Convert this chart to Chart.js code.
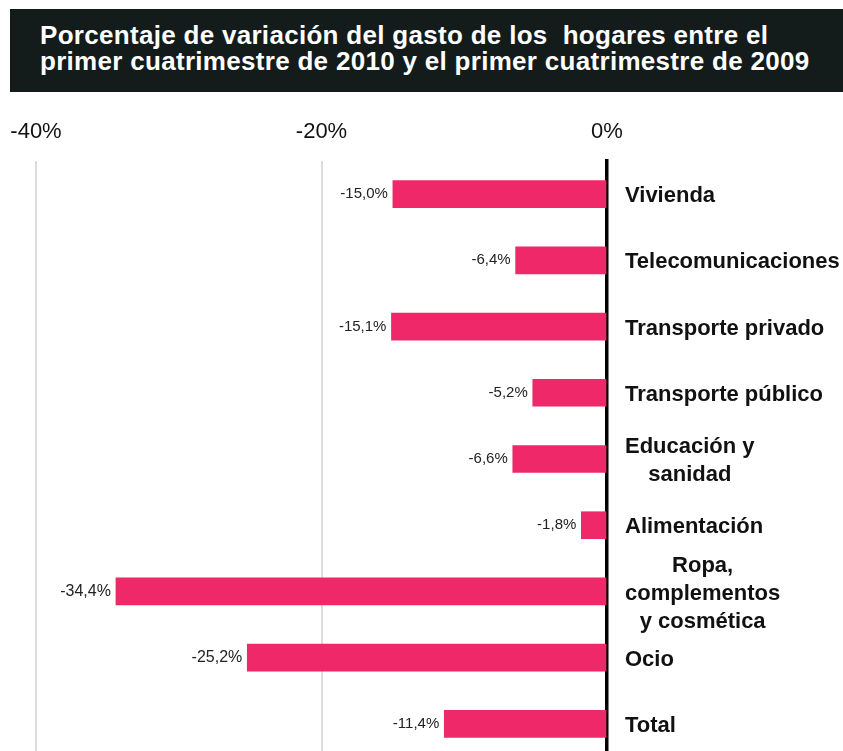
<!DOCTYPE html>
<html>
<head>
<meta charset="utf-8">
<script src="https://cdn.jsdelivr.net/npm/chart.js@4.4.1/dist/chart.umd.min.js"></script>
<style>
  body { margin: 0; background: #fff; overflow: hidden; }
  #title {
    position: absolute; left: 10px; top: 9px; width: 833px; height: 83px;
    background: #131b1b; color: #fff; box-sizing: border-box;
    padding: 14px 0 0 30px; letter-spacing: 0.3px;
    font: bold 26px 'Liberation Sans', Arial, sans-serif; line-height: 25.5px;
  }
  #wrap { position: absolute; left: 0; top: 0; width: 843px; height: 770px; }
</style>
</head>
<body>
<div id="wrap"><canvas id="bar-chart" width="843" height="770"></canvas></div>
<div id="title">Porcentaje de variación del gasto de los&nbsp; hogares entre el<br>primer cuatrimestre de 2010 y el primer cuatrimestre de 2009</div>
<script>
const categories = [
  ['Vivienda'],
  ['Telecomunicaciones'],
  ['Transporte privado'],
  ['Transporte público'],
  ['Educación y', 'sanidad'],
  ['Alimentación'],
  ['Ropa,', 'complementos', 'y cosmética'],
  ['Ocio'],
  ['Total']
];
const values = [-15.0, -6.4, -15.1, -5.2, -6.6, -1.8, -34.4, -25.2, -11.4];
const xTicks = [-40, -20, 0];

const fmt = v => v.toFixed(1).replace('.', ',') + '%';

// value labels at the end of each bar
const valueLabels = {
  id: 'valueLabels',
  afterDatasetsDraw(chart) {
    const ctx = chart.ctx;
    const meta = chart.getDatasetMeta(0);
    ctx.save();
    ctx.fillStyle = '#222';
    ctx.textAlign = 'right';
    ctx.textBaseline = 'middle';
    meta.data.forEach((bar, i) => {
      // the two longest bars carry slightly larger labels in the original
      ctx.font = (values[i] < -20 ? '16px' : '15px') + ' "Liberation Sans", Arial, sans-serif';
      ctx.fillText(fmt(values[i]), bar.x - 5, bar.y);
    });
    ctx.restore();
  }
};

// category names right of the zero line, lines centered inside each block
const categoryLabels = {
  id: 'categoryLabels',
  afterDraw(chart) {
    const ctx = chart.ctx;
    const y = chart.scales.y;
    const left = chart.chartArea.right + 18;
    const lh = 28;
    ctx.save();
    ctx.font = 'bold 22px "Liberation Sans", Arial, sans-serif';
    ctx.fillStyle = '#111';
    ctx.textAlign = 'center';
    ctx.textBaseline = 'middle';
    categories.forEach((lines, i) => {
      const w = Math.max(...lines.map(l => ctx.measureText(l).width));
      const cy = y.getPixelForValue(i) + 2;
      const top = cy - (lines.length - 1) * lh / 2;
      lines.forEach((l, j) => ctx.fillText(l, left + w / 2, top + j * lh));
    });
    ctx.restore();
  }
};

const ctx = document.getElementById('bar-chart');
new Chart(ctx, {
  type: 'bar',
  data: {
    labels: categories,
    datasets: [{
      data: values,
      backgroundColor: '#ee2869',
      barThickness: 27
    }]
  },
  options: {
    indexAxis: 'y',
    responsive: false,
    animation: false,
    layout: { padding: { top: 100, left: 36, bottom: 13, right: 0 } },
    plugins: {
      legend: { display: false },
      tooltip: { enabled: false }
    },
    scales: {
      x: {
        position: 'top',
        min: -40,
        max: 0,
        afterBuildTicks: s => { s.ticks = xTicks.map(v => ({ value: v })); },
        afterFit: s => { s.height = 61; s.paddingLeft = 0; s.paddingRight = 0; },
        ticks: {
          padding: 16,
          color: '#111',
          font: { size: 22, family: '"Liberation Sans", Arial, sans-serif' },
          callback: v => v + '%'
        },
        grid: {
          drawTicks: false,
          lineWidth: 2,
          color: c => c.tick && c.tick.value === 0 ? 'rgba(0,0,0,0)' : '#dcdcdc'
        },
        border: { display: false }
      },
      y: {
        position: 'right',
        afterFit: s => { s.width = 236; },
        ticks: { display: false },
        grid: { display: false },
        border: { color: '#000', width: 3.5 }
      }
    }
  },
  plugins: [valueLabels, categoryLabels]
});
</script>
</body>
</html>
